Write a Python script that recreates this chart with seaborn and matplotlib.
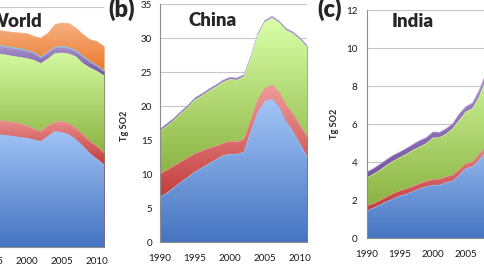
import numpy as np
import matplotlib
matplotlib.use("Agg")
import matplotlib.pyplot as plt
from matplotlib.colors import LinearSegmentedColormap
from matplotlib.patches import PathPatch
import seaborn as sns

# ---- data (Tg SO2) ----
years = list(range(1990, 2012))

world_power = [60.0, 59.2, 58.5, 57.8, 57.2, 56.6, 56.1, 55.8, 55.3, 54.8, 54.4,
               53.6, 52.8, 55.3, 57.8, 57.3, 56.1, 53.6, 50.3, 46.6, 43.9, 41.1]
world_domestic = [7.8, 7.7, 7.6, 7.5, 7.4, 7.3, 7.2, 7.0, 7.0, 6.8, 6.2,
                  5.3, 5.0, 5.3, 4.5, 5.5, 5.5, 5.8, 5.8, 6.2, 6.4, 6.1]
world_industry = [33.5, 33.4, 33.3, 33.2, 33.2, 33.2, 33.2, 33.2, 33.0, 33.2, 33.6,
                  34.4, 33.9, 33.4, 34.4, 34.2, 34.9, 35.6, 35.6, 36.7, 37.5, 38.4]
world_transport = [3.9, 3.9, 3.9, 3.9, 3.9, 3.9, 3.8, 3.8, 3.9, 3.9, 3.6,
                   3.4, 2.8, 3.0, 2.8, 2.8, 2.7, 2.8, 3.3, 2.8, 2.5, 2.2]
world_other = [0.5, 0.5, 0.5, 0.5, 0.5, 0.5, 0.5, 0.5, 0.5, 0.5, 0.5,
               0.5, 0.5, 0.5, 0.5, 0.5, 0.5, 0.5, 0.5, 0.5, 0.5, 0.5]
world_shipping = [7.2, 7.2, 7.2, 7.2, 7.2, 7.2, 7.4, 7.5, 7.6, 7.8, 8.4,
                  8.1, 9.5, 9.5, 11.2, 11.7, 12.0, 11.2, 10.7, 10.9, 12.0, 12.0]

china_power = [6.6, 7.2, 8.0, 8.8, 9.5, 10.3, 10.9, 11.5, 12.1, 12.7, 12.9,
               12.9, 13.2, 16.3, 19.1, 20.7, 21.0, 19.8, 17.7, 16.2, 14.4, 12.5]
china_domestic = [3.4, 3.4, 3.2, 3.0, 2.9, 2.7, 2.5, 2.3, 2.0, 1.8, 1.9,
                  1.8, 1.9, 1.7, 1.9, 1.9, 2.1, 2.2, 2.4, 2.6, 2.7, 3.0]
china_industry = [6.3, 6.5, 6.7, 7.1, 7.4, 7.9, 8.1, 8.4, 8.7, 9.0, 9.1,
                  9.1, 9.2, 9.1, 9.4, 9.7, 9.8, 10.2, 11.0, 11.8, 12.6, 13.1]
china_transport = [0.3, 0.3, 0.3, 0.3, 0.3, 0.3, 0.3, 0.3, 0.3, 0.3, 0.3,
                   0.3, 0.3, 0.3, 0.3, 0.3, 0.3, 0.3, 0.3, 0.3, 0.3, 0.3]

india_power = [1.45, 1.59, 1.75, 1.92, 2.08, 2.22, 2.32, 2.46, 2.60, 2.71, 2.79,
               2.79, 2.93, 3.00, 3.32, 3.67, 3.76, 4.10, 4.54, 4.90, 5.30, 5.60]
india_domestic = [0.26, 0.24, 0.25, 0.26, 0.28, 0.28, 0.28, 0.28, 0.28, 0.29, 0.30,
                  0.32, 0.30, 0.32, 0.30, 0.26, 0.26, 0.32, 0.26, 0.30, 0.30, 0.30]
india_industry = [1.47, 1.54, 1.58, 1.66, 1.69, 1.74, 1.82, 1.89, 1.92, 1.98, 2.18,
                  2.18, 2.24, 2.44, 2.58, 2.71, 2.79, 3.00, 3.50, 3.70, 3.90, 4.10]
india_transport = [0.31, 0.30, 0.32, 0.30, 0.32, 0.30, 0.31, 0.31, 0.34, 0.31, 0.32,
                   0.28, 0.29, 0.27, 0.35, 0.29, 0.30, 0.35, 0.35, 0.35, 0.35, 0.35]

# gradient colours (top, bottom) in Excel 2007 style
BLUE = ("#A3C6F7", "#4674C1")
RED = ("#F09C9C", "#C23E3C")
GREEN = ("#DAFFA8", "#8BB443")
PURPLE = ("#B8A3DC", "#7356A0")
AQUA = ("#8FD3E6", "#3E9DB8")
ORANGE = ("#F7B283", "#EB7A2E")

sns.set_style("white")
plt.rcParams["font.family"] = ["Lato", "DejaVu Sans"]

W, H = 485, 264
fig = plt.figure(figsize=(W / 100, H / 100), dpi=100)


def px_axes(x0, x1, y0, y1):
    # pixel box (top-left origin) -> figure axes
    return fig.add_axes([x0 / W, 1 - y1 / H, (x1 - x0) / W, (y1 - y0) / H])


def stacked_gradient(ax, layers):
    x = np.array(years, float)
    vals = [np.array(v, float) for v, _ in layers]
    tops = np.cumsum(vals, axis=0)
    n = len(layers)
    for k in range(n - 1, -1, -1):
        upper = tops[k]
        lower = tops[k - 1] if k > 0 else np.zeros_like(upper)
        c_top, c_bot = layers[k][1]
        lo, hi = lower.min(), upper.max()
        z = 1 + (n - k) * 0.1
        poly = ax.fill_between(x, 0, upper, color=c_bot, lw=0, zorder=z)
        patch = PathPatch(poly.get_paths()[0], transform=ax.transData,
                          facecolor="none", edgecolor="none")
        ax.add_patch(patch)
        ys = np.linspace(0, hi, 400)
        t = np.clip((ys - lo) / max(hi - lo, 1e-9), 0, 1)
        img = np.repeat(t[:, None], 2, axis=1)
        cmap = LinearSegmentedColormap.from_list("g", [c_bot, c_top])
        im = ax.imshow(img, cmap=cmap, vmin=0, vmax=1, origin="lower",
                       extent=[x[0], x[-1], 0, hi], aspect="auto",
                       interpolation="bilinear", zorder=z + 0.01)
        im.set_clip_path(patch)
        sns.lineplot(x=x, y=upper, color=c_top, lw=0.5, ax=ax, zorder=z + 0.02)


def setup(ax, ymax, ystep, xpad, ypad):
    ax.set_xlim(1990, 2011)
    ax.set_ylim(0, ymax)
    ax.set_xticks(range(1990, 2011, 5))
    ax.set_xticks(years, minor=True)
    ax.set_yticks(np.arange(0, ymax + 0.01, ystep))
    ax.set_yticklabels([f"{v:g}" for v in np.arange(0, ymax + 0.01, ystep)])
    ax.grid(axis="y", color="#C6C6C6", lw=0.8, zorder=0.5)
    ax.grid(axis="x", visible=False)
    ax.set_axisbelow(True)
    for s in ["top", "right"]:
        ax.spines[s].set_visible(False)
    for s in ["left", "bottom"]:
        ax.spines[s].set_color("#8C8C8C")
        ax.spines[s].set_linewidth(0.8)
        ax.spines[s].set_zorder(5)
    ax.tick_params(axis="x", which="both", direction="out", length=2.5,
                   width=0.6, color="#8C8C8C", labelsize=7.1,
                   labelcolor="#1A1A1A", pad=xpad)
    ax.tick_params(axis="y", length=0, labelsize=7.1, labelcolor="#1A1A1A",
                   pad=ypad)
    ax.set_xlabel("")
    ax.set_ylabel("")


# (a) World -- mostly cut off on the left
ax_w = px_axes(-43, 104, 7, 247)
stacked_gradient(ax_w, [(world_power, BLUE), (world_domestic, RED),
                        (world_industry, GREEN), (world_transport, PURPLE),
                        (world_other, AQUA), (world_shipping, ORANGE)])
setup(ax_w, 120, 20, 4.5, 6)

# (b) China
ax_c = px_axes(160, 307, 4, 242)
stacked_gradient(ax_c, [(china_power, BLUE), (china_domestic, RED),
                        (china_industry, GREEN), (china_transport, PURPLE)])
setup(ax_c, 35, 5, 6.2, 5.6)

# (c) India -- cut off on the right
ax_i = px_axes(367, 505.6, 10, 238.3)
stacked_gradient(ax_i, [(india_power, BLUE), (india_domestic, RED),
                        (india_industry, GREEN), (india_transport, PURPLE)])
setup(ax_i, 12, 2, 6.2, 7.0)

# titles, panel letters, axis labels
def ftext(px, py, s, **kw):
    fig.text(px / W, 1 - py / H, s, **kw)

ftext(43, 27, "World", ha="right", va="baseline", fontsize=13.5, weight="heavy")
ftext(213, 26, "China", ha="center", va="baseline", fontsize=13.5, weight="heavy")
ftext(413, 26.7, "India", ha="center", va="baseline", fontsize=13.5, weight="heavy")
ftext(108, 17, "(b)", ha="left", va="baseline", fontsize=17, weight="heavy")
ftext(317, 17, "(c)", ha="left", va="baseline", fontsize=17, weight="heavy")
ftext(125, 126, "Tg SO2", ha="center", va="center", rotation=90,
      fontsize=6.6, weight="bold")
ftext(335, 124, "Tg SO2", ha="center", va="center", rotation=90,
      fontsize=6.6, weight="bold")

fig.savefig("out.png", dpi=100)
